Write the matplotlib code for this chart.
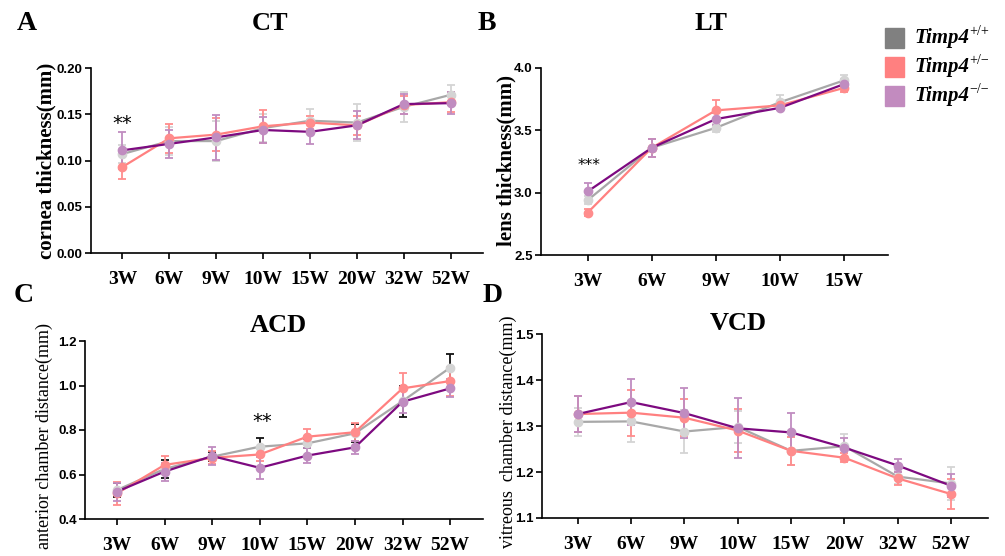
import matplotlib
matplotlib.use("Agg")
import matplotlib.pyplot as plt
from matplotlib.patches import Rectangle

# Zeitpunkte
weeks8 = ["3W", "6W", "9W", "10W", "15W", "20W", "32W", "52W"]
weeks5 = ["3W", "6W", "9W", "10W", "15W"]

# A: Hornhautdicke (CT)
ct_wt = [0.107, 0.121, 0.121, 0.135, 0.143, 0.141, 0.158, 0.171]
ct_wt_err = [0.010, 0.015, 0.022, 0.015, 0.013, 0.020, 0.016, 0.011]
ct_het = [0.093, 0.124, 0.128, 0.137, 0.141, 0.138, 0.160, 0.163]
ct_het_err = [0.013, 0.016, 0.018, 0.018, 0.007, 0.010, 0.010, 0.011]
ct_ko = [0.111, 0.118, 0.125, 0.133, 0.131, 0.138, 0.161, 0.162]
ct_ko_err = [0.020, 0.015, 0.024, 0.014, 0.013, 0.015, 0.011, 0.012]

# B: Linsendicke (LT)
lt_wt = [2.94, 3.36, 3.52, 3.725, 3.90]
lt_wt_err = [0.03, 0.07, 0.03, 0.06, 0.04]
lt_het = [2.84, 3.36, 3.66, 3.70, 3.84]
lt_het_err = [0.03, 0.07, 0.08, 0.02, 0.03]
lt_ko = [3.01, 3.36, 3.59, 3.68, 3.87]
lt_ko_err = [0.07, 0.07, 0.05, 0.02, 0.04]

# C: Vorderkammertiefe (ACD)
acd_wt = [0.53, 0.625, 0.68, 0.725, 0.74, 0.785, 0.93, 1.08]
acd_wt_err = [0.03, 0.04, 0.02, 0.04, 0.02, 0.04, 0.07, 0.06]
acd_het = [0.515, 0.643, 0.675, 0.69, 0.77, 0.79, 0.987, 1.02]
acd_het_err = [0.05, 0.04, 0.03, 0.03, 0.035, 0.04, 0.07, 0.065]
acd_ko = [0.523, 0.613, 0.683, 0.63, 0.685, 0.722, 0.927, 0.987]
acd_ko_err = [0.04, 0.04, 0.04, 0.05, 0.035, 0.03, 0.05, 0.04]

# D: Glaskörpertiefe (VCD)
vcd_wt = [1.309, 1.310, 1.288, 1.298, 1.246, 1.256, 1.190, 1.175]
vcd_wt_err = [0.030, 0.045, 0.047, 0.035, 0.030, 0.027, 0.015, 0.035]
vcd_het = [1.326, 1.329, 1.318, 1.290, 1.246, 1.231, 1.186, 1.152]
vcd_het_err = [0.040, 0.050, 0.040, 0.047, 0.030, 0.010, 0.015, 0.032]
vcd_ko = [1.326, 1.352, 1.328, 1.295, 1.286, 1.253, 1.214, 1.170]
vcd_ko_err = [0.040, 0.050, 0.055, 0.065, 0.043, 0.020, 0.015, 0.025]

gruppen = ["+/+", "+/\u2212", "\u2212/\u2212"]

SERIF = "Liberation Serif"
SANS = "Liberation Sans"

# Farben: (Linie, Marker/Fehlerbalken)
farben = [("#a8a8a8", "#d4d4d4"), ("#ff8080", "#ff8c8c"), ("#7d0a80", "#c08cc0")]
legend_farben = ["#808080", "#ff8080", "#c28bbf"]

fig = plt.figure(figsize=(10.05, 5.56), dpi=100)
W, H = 1005, 556


def achse(l, r, t, b):
    return fig.add_axes([l / W, 1 - b / H, (r - l) / W, (b - t) / H])


def panel(ax, labels, serien, ylim, yticks, yfmt, xpad=(0.67, 0.69), wt_err_color=None):
    x = list(range(len(labels)))
    for i, (y, e) in enumerate(serien):
        lc, mc = farben[i]
        ec = mc
        if i == 0 and wt_err_color:
            ec = wt_err_color
        ax.errorbar(x, y, yerr=e, fmt="none", ecolor=ec, elinewidth=1.3,
                    capsize=3, capthick=1.3, zorder=2 + i)
        ax.plot(x, y, color=lc, lw=1.6, zorder=5 + i)
        ax.plot(x, y, "o", color=mc, ms=6, zorder=8 + i)
    ax.set_xlim(-xpad[0], len(labels) - 1 + xpad[1])
    ax.set_ylim(*ylim)
    ax.set_yticks(yticks)
    ax.set_yticklabels([yfmt.format(v) for v in yticks], fontfamily=SANS,
                       fontweight="bold", fontsize=9.5)
    ax.set_xticks(x)
    ax.set_xticklabels(labels, fontfamily=SERIF, fontweight="bold", fontsize=14)
    for s in ["top", "right"]:
        ax.spines[s].set_visible(False)
    for s in ["left", "bottom"]:
        ax.spines[s].set_linewidth(1.2)
    ax.tick_params(axis="both", direction="out", length=4, width=1.2)
    ax.tick_params(axis="x", pad=9)
    ax.tick_params(axis="y", pad=2)


axA = achse(91, 483, 68, 253)
panel(axA, weeks8, [(ct_wt, ct_wt_err), (ct_het, ct_het_err), (ct_ko, ct_ko_err)],
      (0, 0.20), [0.00, 0.05, 0.10, 0.15, 0.20], "{:.2f}")

axB = achse(541, 888, 68, 255)
panel(axB, weeks5, [(lt_wt, lt_wt_err), (lt_het, lt_het_err), (lt_ko, lt_ko_err)],
      (2.5, 4.0), [2.5, 3.0, 3.5, 4.0], "{:.1f}", xpad=(0.73, 0.69))

axC = achse(85, 483, 341, 519)
panel(axC, weeks8, [(acd_wt, acd_wt_err), (acd_het, acd_het_err), (acd_ko, acd_ko_err)],
      (0.4, 1.2), [0.4, 0.6, 0.8, 1.0, 1.2], "{:.1f}", wt_err_color="#111111")

axD = achse(542, 988, 334, 518)
panel(axD, weeks8, [(vcd_wt, vcd_wt_err), (vcd_het, vcd_het_err), (vcd_ko, vcd_ko_err)],
      (1.1, 1.5), [1.1, 1.2, 1.3, 1.4, 1.5], "{:.1f}")


def ftext(x, y, s, **kw):
    return fig.text(x / W, 1 - y / H, s, **kw)


# Panelbuchstaben und Titel
for (x, y, s) in [(27, 24, "A"), (487, 24, "B"), (24, 296, "C"), (493, 296, "D")]:
    ftext(x, y, s, fontfamily=SERIF, fontweight="bold", fontsize=20, ha="center", va="center")
for (x, y, s) in [(270, 24, "CT"), (711, 24, "LT"), (278, 326, "ACD"), (738, 324, "VCD")]:
    ftext(x, y, s, fontfamily=SERIF, fontweight="bold", fontsize=19, ha="center", va="center")

# Achsenbeschriftungen
ftext(46, 161, "cornea thickness(mm)", fontfamily=SERIF, fontweight="bold", fontsize=15,
      rotation=90, ha="center", va="center")
ftext(506, 160, "lens thickness(mm)", fontfamily=SERIF, fontweight="bold", fontsize=15,
      rotation=90, ha="center", va="center")
ftext(44, 436, "anterior chamber distance(mm)", fontfamily=SERIF, fontsize=13,
      rotation=90, ha="center", va="center")
ftext(508, 432, "vitreous  chamber distance(mm)", fontfamily=SERIF, fontsize=13,
      rotation=90, ha="center", va="center")

# Signifikanz
ftext(122, 124, "**", fontfamily="DejaVu Sans", fontsize=14, ha="center", va="center")
ftext(589, 166, "***", fontfamily="DejaVu Sans", fontsize=11, ha="center", va="center")
ftext(262, 422, "**", fontfamily="DejaVu Sans", fontsize=14, ha="center", va="center")

# Legende
for i, (g, c) in enumerate(zip(gruppen, legend_farben)):
    yc = [38, 67, 96][i]
    fig.patches.append(Rectangle((885 / W, 1 - (yc + 10) / H), 19 / W, 20 / H,
                                 transform=fig.transFigure, color=c, figure=fig))
    t = ftext(914, yc, "Timp4", fontfamily=SERIF, fontweight="bold", fontstyle="italic",
              fontsize=15, ha="left", va="center")
    fig.add_artist(plt.Annotation(g, xy=(1, 1), xycoords=t, xytext=(0, 2),
                                  textcoords="offset points", fontfamily=SERIF,
                                  fontsize=10, ha="left", va="top", annotation_clip=False))

fig.savefig("out.png", dpi=100)
